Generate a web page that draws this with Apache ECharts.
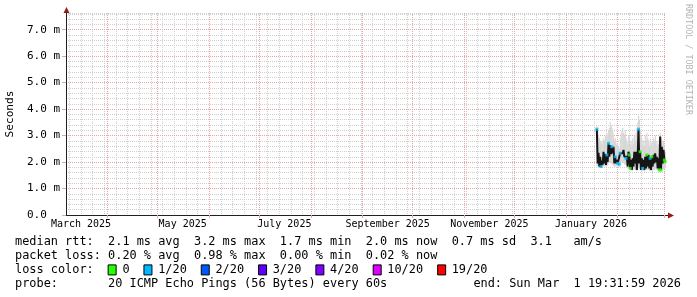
<!DOCTYPE html>
<html><head><meta charset="utf-8">
<script src="https://cdn.jsdelivr.net/npm/echarts@6/dist/echarts.min.js"></script>
<style>html,body{margin:0;padding:0;background:#fff}#c{width:697px;height:297px}</style>
</head><body><div id="c"></div>
<script>
// ---------- data ----------
const axisStartUTC = Date.UTC(2025, 2, 7, 0);   // left edge of the time axis
const stepHours = 12;
const stepCount = 720;                          // 360 days
const dataStartUTC = Date.UTC(2026, 0, 19, 12); // first consolidated sample
const monthNames = ['January','February','March','April','May','June','July','August','September','October','November','December'];
const labelMonths = [1, 3, 5, 7, 9, 11];
const yMaxMs = 7.63;

// median rtt in ms (one value per 12 h)
const medianMs = [3.24,1.95,2.35,1.83,2.20,1.83,2.05,1.90,2.39,1.95,
  2.30,1.89,2.27,2.00,2.71,2.20,2.64,2.30,2.58,2.33,
  2.58,1.95,2.20,1.95,2.08,1.95,2.01,1.92,2.33,2.27,
  2.39,2.33,2.46,2.20,2.27,2.14,2.20,1.83,2.39,2.27,
  1.76,2.08,1.70,2.14,1.83,2.39,1.95,2.39,1.70,2.20,
  3.24,1.95,2.39,1.70,2.14,1.76,2.08,1.70,2.20,1.76,
  2.27,1.83,2.27,1.76,2.14,1.70,2.20,1.83,2.27,1.95,
  2.33,2.00,2.20,1.76,2.14,1.70,2.96,1.70,2.58,1.95,
  2.46,2.08,2.01];
// smoke (min / max ping) in ms
const smokeLowMs = [1.85,1.85,1.80,1.78,1.80,1.78,1.82,1.80,1.85,1.84,1.83,1.82,1.85,1.88,
  1.95,1.98,2.00,1.96,1.92,1.90,1.85,1.82,1.85,1.83,1.86,1.84,1.82,1.80,
  1.95,1.98,2.00,1.96,1.95,1.90,1.92,1.88,1.85,1.75,1.80,1.72,1.68,1.70,
  1.65,1.70,1.72,1.75,1.70,1.72,1.65,1.70,1.80,1.75,1.70,1.65,1.68,1.66,
  1.68,1.64,1.70,1.68,1.72,1.70,1.70,1.66,1.68,1.64,1.66,1.68,1.72,1.70,
  1.75,1.72,1.70,1.66,1.68,1.64,1.70,1.64,1.72,1.70,1.74,1.72,1.75];
const smokeHighMs = [3.35,3.30,3.00,2.90,2.80,2.70,
  2.80,2.70,2.90,2.80,3.00,2.90,3.10,3.00,
  3.20,3.30,3.50,3.40,3.30,3.20,
  3.00,2.80,2.90,2.70,2.60,2.70,2.60,2.50,
  2.90,3.10,3.20,3.30,3.10,3.00,3.20,2.90,2.80,2.70,
  3.00,2.90,2.70,2.80,2.60,2.90,2.70,3.00,2.80,3.10,3.30,3.50,
  3.75,3.60,3.20,3.00,
  2.90,2.70,2.80,2.60,3.00,2.80,3.10,2.90,2.80,2.60,2.90,2.70,
  2.80,2.60,2.90,2.80,3.00,2.70,2.80,2.60,2.70,2.50,
  3.10,2.90,2.80,2.70,2.80,2.60,2.40];
// lost pings out of 20 where a loss-coloured median mark is visible
const lossPings = [1,null,null,null,null,1,null,null,null,null,
  null,null,1,null,1,null,null,null,1,null,
  null,null,1,null,null,1,null,1,1,null,
  null,null,null,null,null,1,null,null,null,0,
  0,null,null,null,null,null,null,null,null,null,
  1,null,0,null,null,1,null,null,null,null,
  0,null,null,null,1,null,0,null,null,null,
  null,null,null,null,null,0,null,0,null,null,
  null,0,0];

const lossLabels = ['0','1/20','2/20','3/20','4/20','10/20','19/20'];
const lossColors = ['#26ff00','#00b8ff','#0059ff','#5e00ff','#7e00ff','#dd00ff','#ff0000'];
const lossCounts = [0, 1, 2, 3, 4, 10, 19];
const rttLine = 'median rtt:  2.1 ms avg  3.2 ms max  1.7 ms min  2.0 ms now  0.7 ms sd  3.1   am/s';
const lossLine = 'packet loss: 0.20 % avg  0.98 % max  0.00 % min  0.02 % now';
const probeLine = 'probe:       20 ICMP Echo Pings (56 Bytes) every 60s';
const endLine = 'end: Sun Mar  1 19:31:59 2026';
const watermark = 'RRDTOOL / TOBI OETIKER';
const yAxisTitle = 'Seconds';

// ---------- build ----------
const pad = n => (n < 10 ? '0' : '') + n;
const cats = [];
for (let i = 0; i <= stepCount; i++) {
  const d = new Date(axisStartUTC + i * stepHours * 3600e3);
  cats.push(d.getUTCFullYear() + '-' + pad(d.getUTCMonth() + 1) + '-' + pad(d.getUTCDate()) + ' ' + pad(d.getUTCHours()));
}
function parts(s) { return { y: +s.slice(0, 4), m: +s.slice(5, 7), d: +s.slice(8, 10), h: +s.slice(11, 13) }; }
function isSunday(i, v) { const p = parts(v); return p.h === 0 && new Date(Date.UTC(p.y, p.m - 1, p.d)).getUTCDay() === 0; }
function isMonthStart(i, v) { const p = parts(v); return p.h === 0 && p.d === 1; }
function isLabelDay(i, v) { const p = parts(v); return p.h === 0 && p.d === 16 && labelMonths.indexOf(p.m) >= 0; }
const offset = Math.round((dataStartUTC - axisStartUTC) / (stepHours * 3600e3));

const smokeData = medianMs.map((v, i) => [offset + i, smokeLowMs[i], smokeHighMs[i]]);
const medianData = medianMs.map((v, i) => [offset + i, v]);
const lossData = [];
lossPings.forEach((l, i) => {
  if (l === null) return;
  lossData.push({ value: [offset + i, medianMs[i]], itemStyle: { color: lossColors[lossCounts.indexOf(l)] } });
});

const MONO = '"DejaVu Sans Mono"';
const legFont = 11.9, charW = legFont * 0.602, legX = 15;
const rowY = [241.5, 255.7, 269.9, 284.1];
let lossText = 'loss color:  ';
const boxCols = [];
lossLabels.forEach(l => { boxCols.push(lossText.length); lossText += '  ' + l + '  '; });

const graphics = [];
[rttLine, lossLine, lossText, probeLine].forEach((t, k) => {
  graphics.push({ type: 'text', x: legX, y: rowY[k], style: { text: t, font: legFont + 'px ' + MONO, fill: '#000', align: 'left', verticalAlign: 'middle' } });
});
graphics.push({ type: 'text', x: 681, y: rowY[3], style: { text: endLine, font: legFont + 'px ' + MONO, fill: '#000', align: 'right', verticalAlign: 'middle' } });
boxCols.forEach((c, k) => {
  graphics.push({ type: 'rect', shape: { x: legX + c * charW, y: rowY[2] - 5, width: 8, height: 10 }, style: { fill: lossColors[k], stroke: '#000', lineWidth: 1 } });
});
graphics.push({ type: 'polygon', shape: { points: [[63.5, 13], [69.5, 13], [66.5, 7]] }, style: { fill: '#9a1a1a' } });
graphics.push({ type: 'polygon', shape: { points: [[668, 212.5], [668, 218.5], [674, 215.5]] }, style: { fill: '#9a1a1a' } });
graphics.push({ type: 'rect', shape: { x: 666, y: 215, width: 2, height: 1 }, style: { fill: '#202020' } });
graphics.push({ type: 'text', x: 688, y: 4, rotation: -Math.PI / 2, style: { text: watermark, font: '8.4px ' + MONO, fill: '#b4b4b4', align: 'left', verticalAlign: 'middle' } });

const chart = echarts.init(document.getElementById('c'), null, { renderer: 'canvas' });
chart.setOption({
  animation: false,
  backgroundColor: '#ffffff',
  grid: { left: 66, right: 31, top: 13, bottom: 82, containLabel: false, outerBoundsMode: 'none' },
  xAxis: [
    { type: 'category', data: cats, boundaryGap: false, position: 'bottom', z: 0,
      axisLine: { show: false }, axisTick: { show: false }, axisLabel: { show: false },
      splitLine: { show: true, interval: isSunday, lineStyle: { color: '#cfcfcf', type: [1, 1], width: 1 } } },
    { type: 'category', data: cats, boundaryGap: false, position: 'bottom', z: 1,
      axisLine: { show: true, lineStyle: { color: '#202020', width: 1 } },
      axisTick: { show: true, interval: isMonthStart, length: 3, lineStyle: { color: '#eaa3a3' } },
      axisLabel: { show: true, interval: isLabelDay, margin: 4, fontFamily: 'DejaVu Sans Mono', fontSize: 10, color: '#000',
        formatter: v => { const p = parts(v); return monthNames[p.m - 1] + ' ' + p.y; } },
      splitLine: { show: true, interval: isMonthStart, lineStyle: { color: '#eaa3a3', type: [1, 1], width: 1 } } }
  ],
  yAxis: [
    { type: 'value', position: 'left', min: 0, max: yMaxMs, interval: 1, z: 1,
      name: yAxisTitle, nameLocation: 'middle', nameGap: 48, nameRotate: 90,
      nameTextStyle: { fontFamily: 'DejaVu Sans Mono', fontSize: 11.2, color: '#000' },
      axisLine: { show: true, lineStyle: { color: '#202020', width: 1 } },
      axisTick: { show: true, length: 4, lineStyle: { color: '#eaa3a3' } },
      axisLabel: { margin: 6, fontFamily: 'DejaVu Sans Mono', fontSize: 11, color: '#000', showMaxLabel: false,
        formatter: v => v === 0 ? '0.0  ' : (Math.abs(v - Math.round(v)) < 1e-6 ? v.toFixed(1) + ' m' : '') },
      splitLine: { show: true, showMinLine: false, showMaxLine: false, lineStyle: { color: '#eaa3a3', type: [1, 1], width: 1 } } },
    { type: 'value', position: 'left', min: 0, max: yMaxMs, interval: 0.2, z: 0,
      axisLine: { show: false }, axisTick: { show: false }, axisLabel: { show: false },
      splitLine: { show: true, showMinLine: false, showMaxLine: true, lineStyle: { color: '#cfcfcf', type: [1, 1], width: 1 } } }
  ],
  series: [
    { type: 'custom', name: 'smoke', xAxisIndex: 0, yAxisIndex: 0, data: smokeData, encode: { x: 0, y: [1, 2] }, z: 2,
      renderItem: (params, api) => {
        const x = api.value(0), a = api.coord([x, api.value(1)]), b = api.coord([x, api.value(2)]);
        const w = api.size([1, 0])[0];
        return { type: 'rect', shape: { x: a[0] - w / 2, y: b[1], width: w + 0.3, height: a[1] - b[1] }, style: { fill: '#d6d6d6' } };
      } },
    { type: 'line', name: 'median', xAxisIndex: 0, yAxisIndex: 0, data: medianData, showSymbol: false, z: 3,
      lineStyle: { color: '#151515', width: 2 } },
    { type: 'scatter', name: 'loss', xAxisIndex: 0, yAxisIndex: 0, data: lossData, symbol: 'rect', symbolSize: [3, 3], z: 4 }
  ],
  graphic: graphics
});
</script></body></html>
